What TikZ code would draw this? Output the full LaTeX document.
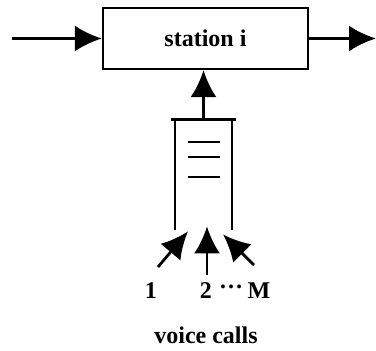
\documentclass[tikz,border=0pt]{standalone}
\usepackage{fontspec}
\setmainfont{Liberation Serif}
\usetikzlibrary{arrows.meta,positioning,calc}

\begin{document}
\begin{tikzpicture}[x=1pt,y=-1pt,>={Latex[length=27pt,width=26pt]},line width=2.8pt,
  lbl/.style={font=\fontsize{24}{29}\selectfont\bfseries,inner sep=0pt}]
\useasboundingbox (0,0) rectangle (376,351);
\node[draw,line width=2.2pt,minimum width=205pt,minimum height=61pt,lbl] (station) at (205.5,38.5) {station i};
\coordinate (src) at (12,38.5);
\coordinate (snk) at (376,38.5);
\draw[->] (src) -- (station.west);
\draw[->] (station.east) -- (snk);
\node[minimum width=54pt,minimum height=108pt,inner sep=0pt] (queue) at (203.5,175) {};
\draw[line width=2.6pt] (queue.south west) -- (queue.north west) -- (queue.north east) -- (queue.south east);
\draw[line width=2.6pt] ([xshift=-4pt]queue.north west) -- ([xshift=4pt]queue.north east);
\foreach \y in {142,157,177}
  \draw (188,\y) -- (220,\y);
\draw[->] (queue.north) -- (queue.north |- station.south);
\coordinate (h1) at ($(queue.south)+(-15.5,1)$);
\coordinate (h2) at ($(queue.south)+(3.5,-4)$);
\coordinate (hM) at ($(queue.south)+(19.5,4)$);
\coordinate (t1) at (158,267);
\coordinate (t2) at (h2 |- 0,275);
\coordinate (tM) at (254,265);
\draw[->] (t1) -- (h1);
\draw[->] (t2) -- (h2);
\draw[->] (tM) -- (hM);
\node[lbl] (c1) at (151,291) {1};
\node[lbl] (c2) at (206,291) {2};
\node[lbl] (dots) at (231,290) {\raisebox{0.25em}{…}};
\node[lbl] (cM) at (259,291) {M};
\node[lbl] (calls) at (206,335) {voice calls};
\end{tikzpicture}
\end{document}
